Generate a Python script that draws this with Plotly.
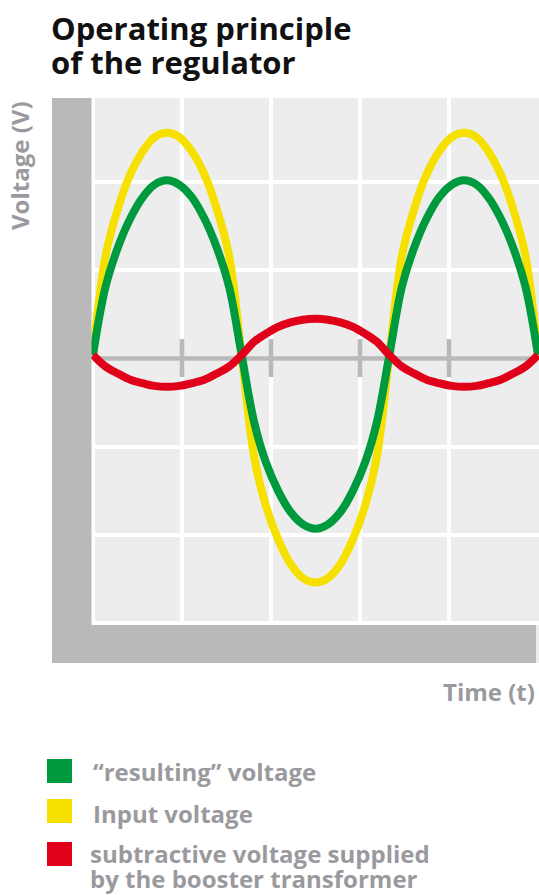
import plotly.graph_objects as go

# --- data (grid units: 1 = one white grid cell) ---
time = [0, 0.14, 0.28, 0.42, 0.56, 0.69, 0.83, 0.97, 1.11, 1.25, 1.39, 1.53, 1.67,
        1.81, 1.94, 2.08, 2.22, 2.36, 2.5, 2.64, 2.78, 2.92, 3.06, 3.19, 3.33,
        3.47, 3.61, 3.75, 3.89, 4.03, 4.17, 4.31, 4.44, 4.58, 4.72, 4.86, 5.0]

input_voltage = [0, 1.12, 1.66, 2.05, 2.31, 2.47, 2.52, 2.47, 2.31, 2.05, 1.66, 1.12, 0,
                 -1.15, -1.70, -2.09, -2.37, -2.53, -2.58, -2.53, -2.37, -2.09, -1.70, -1.15, 0,
                 1.12, 1.66, 2.05, 2.31, 2.47, 2.52, 2.47, 2.31, 2.05, 1.66, 1.12, 0]

resulting_voltage = [0, 0.77, 1.22, 1.55, 1.79, 1.93, 1.98, 1.93, 1.79, 1.55, 1.22, 0.77, 0,
                     -0.76, -1.21, -1.54, -1.78, -1.92, -1.97, -1.92, -1.78, -1.54, -1.21, -0.76, 0,
                     0.77, 1.22, 1.55, 1.79, 1.93, 1.98, 1.93, 1.79, 1.55, 1.22, 0.77, 0]

subtractive_voltage = [0, -0.13, -0.21, -0.28, -0.32, -0.35, -0.36, -0.35, -0.32, -0.28, -0.21, -0.13, 0,
                       0.15, 0.24, 0.32, 0.37, 0.40, 0.41, 0.40, 0.37, 0.32, 0.24, 0.15, 0,
                       -0.13, -0.21, -0.28, -0.32, -0.35, -0.36, -0.35, -0.32, -0.28, -0.21, -0.13, 0]

time_ticks = [1, 2, 3, 4]
axis_level = -0.04

legend_labels = ["\u201cresulting\u201d voltage", "Input voltage",
                 "subtractive voltage supplied", "by the booster transformer"]

GREEN = "#009a3e"
YELLOW = "#f6e000"
RED = "#e1001a"
BAR_GREY = "#b9b9b9"
TEXT_GREY = "#9a9a9e"
FONT = "Open Sans"

# plot area in pixels: x 52..539, y 98..663
L, R, T, B = 52, 539, 98, 663


def px(x):
    return (x - L) / (R - L)


def py(y):
    return (B - y) / (B - T)


fig = go.Figure()

for vals, col in [(input_voltage, YELLOW), (resulting_voltage, GREEN), (subtractive_voltage, RED)]:
    fig.add_trace(go.Scatter(x=time, y=vals, mode="lines",
                             line=dict(color=col, width=8, shape="spline", smoothing=1.0),
                             showlegend=False, hoverinfo="skip"))

shapes = []
# grey L-shaped frame (on top so the grid does not cross it)
shapes.append(dict(type="rect", xref="paper", yref="paper", x0=px(52), x1=px(91.5), y0=py(663), y1=py(98),
                   fillcolor=BAR_GREY, line_width=0, layer="above"))
shapes.append(dict(type="rect", xref="paper", yref="paper", x0=px(53), x1=px(536), y0=py(663), y1=py(625),
                   fillcolor=BAR_GREY, line_width=0, layer="above"))
# time axis with its ticks
shapes.append(dict(type="line", xref="x", yref="y", x0=0, x1=5, y0=axis_level, y1=axis_level,
                   line=dict(color=BAR_GREY, width=4.5), layer="between"))
for t in time_ticks:
    shapes.append(dict(type="line", xref="x", yref="y", x0=t, x1=t, y0=axis_level - 0.21, y1=axis_level + 0.22,
                       line=dict(color=BAR_GREY, width=4.5), layer="between"))

# legend squares
for (top, bot), col in zip([(759, 783), (799, 823), (842, 866)], [GREEN, YELLOW, RED]):
    shapes.append(dict(type="rect", xref="paper", yref="paper", x0=px(47), x1=px(72), y0=py(bot), y1=py(top),
                       fillcolor=col, line_width=0))

annotations = [
    dict(text="<b>Operating principle</b>", x=px(49), y=py(28), xanchor="left", yanchor="middle",
         font=dict(family=FONT, size=31, color="#111111")),
    dict(text="<b>of the regulator</b>", x=px(49), y=py(62), xanchor="left", yanchor="middle",
         font=dict(family=FONT, size=31, color="#111111")),
    dict(text="<b>Voltage (V)</b>", x=px(19), y=py(166), xanchor="center", yanchor="middle", textangle=-90,
         font=dict(family=FONT, size=24, color=TEXT_GREY)),
    dict(text="<b>Time (t)</b>", x=px(537), y=py(691.5), xanchor="right", yanchor="middle",
         font=dict(family=FONT, size=24, color=TEXT_GREY)),
]
for label, mid, xl in zip(legend_labels, [771, 813, 853, 879], [91, 91, 88, 88]):
    annotations.append(dict(text="<b>" + label + "</b>", x=px(xl), y=py(mid), xanchor="left", yanchor="middle",
                            font=dict(family=FONT, size=24, color=TEXT_GREY)))
for a in annotations:
    a.update(xref="paper", yref="paper", showarrow=False)

fig.update_layout(
    width=539, height=895,
    margin=dict(l=L, r=539 - R, t=T, b=895 - B),
    paper_bgcolor="white",
    plot_bgcolor="#ededed",
    shapes=shapes,
    annotations=annotations,
    xaxis=dict(range=[-41 / 89, (539 - 93) / 89], tick0=0, dtick=1, showgrid=True, gridcolor="white",
               gridwidth=3.5, zeroline=False, showticklabels=False, ticks="", fixedrange=True),
    yaxis=dict(range=[-(663 - 355) / 88.2, (355 - 98) / 88.2], tick0=axis_level, dtick=1, showgrid=True,
               gridcolor="white", gridwidth=3.5, zeroline=False, showticklabels=False, ticks="",
               fixedrange=True),
)

# page margin off, so the figure sits at the window's top-left corner
fig.write_html("out.html", config={"displayModeBar": False},
               post_script="document.body.style.margin='0';document.body.style.overflow='hidden';")
